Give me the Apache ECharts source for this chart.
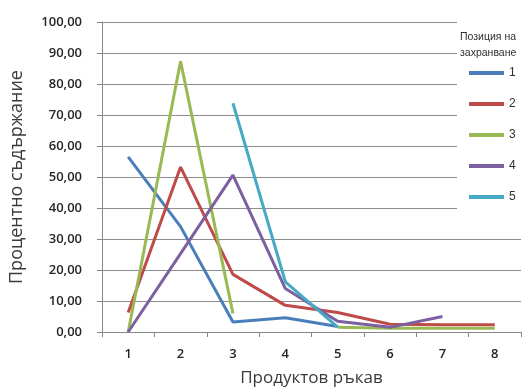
<!DOCTYPE html>
<html><head><meta charset="utf-8">
<script src="https://cdn.jsdelivr.net/npm/echarts@6/dist/echarts.min.js"></script>
<style>html,body{margin:0;padding:0;background:#fff}#c{width:522px;height:392px}</style>
</head><body><div id="c"></div>
<script>
const categories = ['1','2','3','4','5','6','7','8'];
const seriesNames = ['1','2','3','4','5'];
const s1 = [56.5, 34.0, 3.2, 4.6, 1.8, null, null, null];
const s2 = [6.3, 53.2, 18.6, 8.6, 6.3, 2.5, 2.3, 2.3];
const s3 = [0.0, 87.3, 6.0, null, 1.5, 1.2, 1.2, 1.2];
const s4 = [0.0, 25.3, 50.6, 14.0, 3.5, 1.5, 5.0, null];
const s5 = [null, null, 73.8, 16.2, 1.6, null, null, null];
const yTicks = [0, 10, 20, 30, 40, 50, 60, 70, 80, 90, 100];
const legendTitle = ['Позиция на', 'захранване'];
const xTitle = 'Продуктов ръкав';
const yTitle = 'Процентно съдържание';

const colors = ['#4A7EBB', '#BE4B48', '#98B954', '#7D60A0', '#46AAC5'];
const allData = [s1, s2, s3, s4, s5];
const font = "'Open Sans', 'Noto Sans', sans-serif";
const narrow = "'Liberation Sans', 'DejaVu Sans', sans-serif";

const chart = echarts.init(document.getElementById('c'), null, {renderer: 'canvas'});
chart.setOption({
  animation: false,
  color: colors,
  grid: {left: 95, right: 1, top: 22, bottom: 57, containLabel: false},
  xAxis: {
    type: 'category', data: categories, boundaryGap: true,
    name: xTitle, nameLocation: 'middle', nameGap: 38,
    nameTextStyle: {fontSize: 17, color: '#3a3a3a', fontFamily: font},
    axisLine: {lineStyle: {color: '#868686', width: 1}},
    axisTick: {show: true, length: 5, lineStyle: {color: '#868686'}},
    axisLabel: {fontSize: 13, color: '#262626', margin: 16, fontFamily: font, fontWeight: 600}
  },
  yAxis: {
    type: 'value', min: yTicks[0], max: yTicks[yTicks.length - 1], interval: 10,
    name: yTitle, nameLocation: 'middle', nameGap: 76, nameRotate: 90,
    nameTextStyle: {fontSize: 18, color: '#3a3a3a', fontFamily: font},
    axisLine: {show: true, lineStyle: {color: '#868686'}},
    axisTick: {show: true, length: 5, lineStyle: {color: '#868686'}},
    axisLabel: {fontSize: 13, color: '#262626', margin: 20, fontFamily: font, fontWeight: 600,
      formatter: v => v.toFixed(2).replace('.', ',')},
    splitLine: {lineStyle: {color: '#8c8c8c', width: 1}}
  },
  legend: {
    orient: 'vertical', left: 464, top: 61, z: 6,
    icon: 'rect', itemWidth: 35, itemHeight: 4, itemGap: 17,
    textStyle: {fontSize: 12, color: '#303030', fontFamily: narrow, lineHeight: 14},
    data: seriesNames
  },
  graphic: [
    {type: 'rect', z: 5, shape: {x: 457, y: 0, width: 65, height: 226}, style: {fill: '#fff'}},
    {type: 'text', z: 7, left: 460, top: 29, style: {text: legendTitle.join('\n'), fontSize: 10.5, lineHeight: 16, fill: '#303030', fontFamily: narrow}}
  ],
  series: seriesNames.map((n, i) => ({
    name: n, type: 'line', data: allData[i], showSymbol: false, symbol: 'none',
    connectNulls: false,
    lineStyle: {width: 3, color: colors[i]}, itemStyle: {color: colors[i]}
  }))
});
</script></body></html>
